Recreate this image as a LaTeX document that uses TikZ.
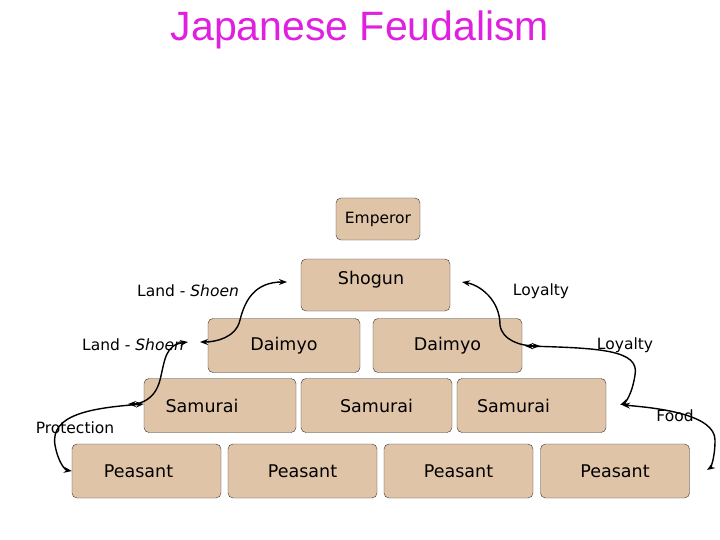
\documentclass[tikz,border=0pt]{standalone}
\usepackage{fontspec}
\setmainfont{DejaVu Sans}
\newfontfamily\titlefont{Liberation Sans}
\usetikzlibrary{arrows.meta}
\definecolor{tan}{HTML}{E0C4A8}
\definecolor{mag}{HTML}{E020E0}
\begin{document}
\begin{tikzpicture}[x=1pt,y=-1pt,
 box/.style={draw=black!80,fill=tan,rounded corners=5pt,minimum height=54pt,minimum width=149pt,inner sep=0pt,font=\fontsize{17.5}{20}\selectfont},
 lab/.style={font=\fontsize{15.5}{18}\selectfont,inner sep=1pt},
 arr/.style={line width=1.4pt,{Stealth[length=8pt]}-{Stealth[length=8pt]}}]
\useasboundingbox (0,0) rectangle (720,540);
\node[font=\titlefont\fontsize{41}{46}\selectfont,text=mag] (title) at (360,30) {Japanese Feudalism};
\node[box,minimum width=84pt,minimum height=42pt,font=\fontsize{15.5}{18}\selectfont] (emp) at (378,219) {Emperor};
\node[box,minimum height=52pt,text height=0pt,text depth=0pt] (sho) at (375.5,285) {};
\node[font=\fontsize{17.5}{20}\selectfont] (shot) at (371,280) {Shogun};
\node[box,minimum width=152pt] (d1) at (284,345.5) {Daimyo};
\node[box] (d2) at (447.5,345.5) {Daimyo};
\node[box,minimum width=152pt] (s1) at (220,405.5) {\hspace*{-18pt}Samurai\hspace*{18pt}};
\node[box,minimum width=151pt] (s2) at (376.5,405.5) {Samurai};
\node[box] (s3) at (531.5,405.5) {\hspace*{-18pt}Samurai\hspace*{18pt}};
\node[box] (p1) at (146.5,471) {\hspace*{-8pt}Peasant\hspace*{8pt}};
\node[box] (p2) at (302.5,471) {Peasant};
\node[box] (p3) at (458.5,471) {Peasant};
\node[box] (p4) at (615,471) {Peasant};
\node[lab] (l1) at (188,291) {Land - \textit{Shoen}};
\node[lab] (l2) at (133,345) {Land - \textit{Shoen}};
\node[lab] (l3) at (75,428) {Protection};
\node[lab] (l4) at (541,291) {Loyalty};
\node[lab] (l5) at (625,345) {Loyalty};
\node[lab] (l6) at (675,416) {Food};
\coordinate (a0) at (287,282);
\coordinate (a1) at (200,342);
\coordinate (a2) at (128,404);
\coordinate (b0) at (462,282);
\coordinate (b1) at (540,346);
\coordinate (b2) at (620,405);
\coordinate (c2) at (707,470);
\draw[arr] (a0) .. controls (255,282) and (245,300) .. (240,320) .. controls (236,338) and (215,342) .. (a1);
\draw[arr] (188,342) .. controls (165,345) and (165,360) .. (160,380) .. controls (155,400) and (140,404) .. (a2);
\draw[arr] (s1.west |- 0,404) .. controls (90,408) and (50,415) .. (55,445) .. controls (58,462) and (65,470) .. (p1.west);
\draw[arr] (b0) .. controls (480,285) and (500,300) .. (500,325) .. controls (502,340) and (520,346) .. (b1);
\draw[arr] (525,346) .. controls (600,348) and (640,350) .. (635,375) .. controls (632,395) and (625,403) .. (b2);
\draw[arr] (622,405) .. controls (660,408) and (715,415) .. (715,440) .. controls (715,460) and (710,468) .. (c2);
\end{tikzpicture}
\end{document}
